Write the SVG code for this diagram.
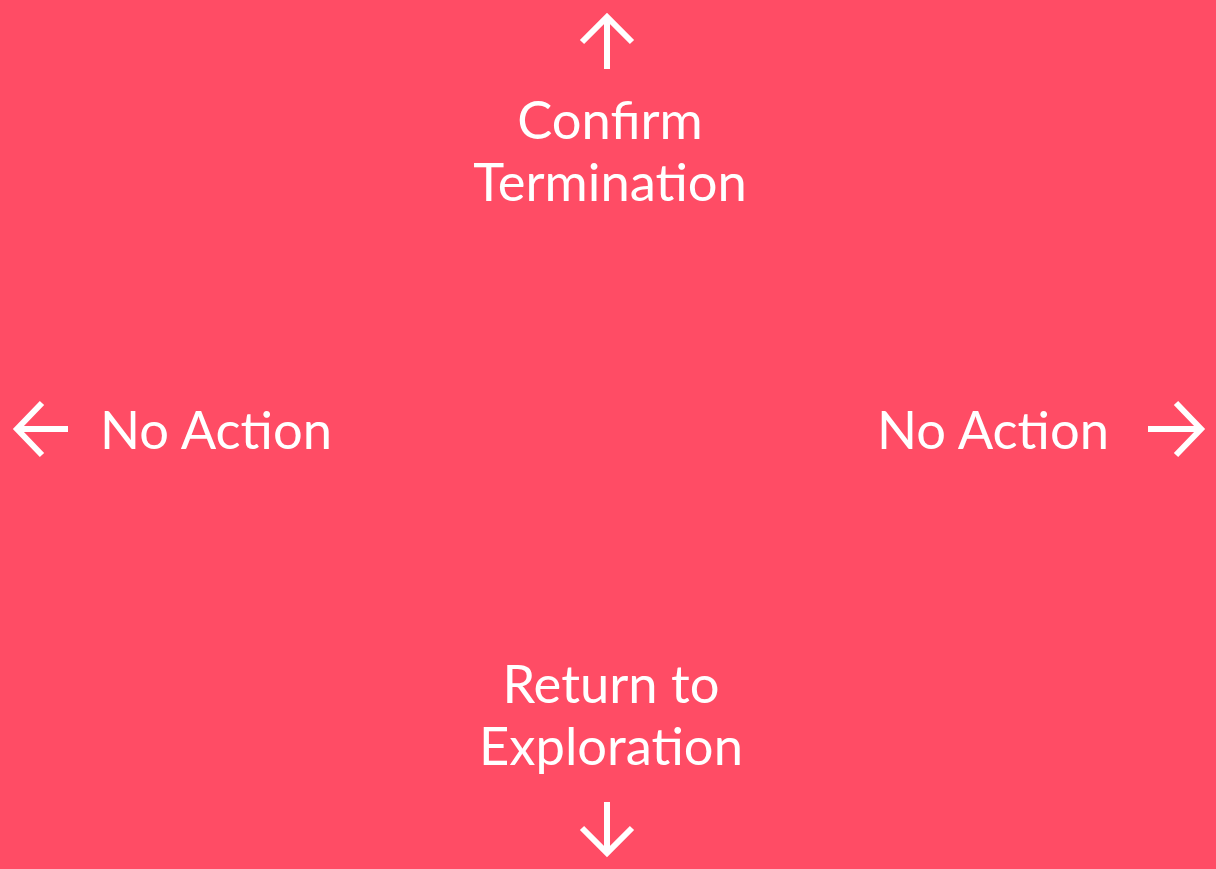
<svg xmlns="http://www.w3.org/2000/svg" width="1216" height="869" viewBox="0 0 1216 869">
<style>
.t{font-family:Lato,"Noto Sans",sans-serif;font-size:52.5px;fill:#fff}
.a{fill:none;stroke:#fff;stroke-width:6;stroke-linecap:butt;stroke-linejoin:miter}
</style>
<rect width="1216" height="869" fill="#FF4C65"/>
<g id="connectors">
<path class="a" d="M607 69V17M582 42L607 17L632 42"/>
<path class="a" d="M607 802V853M582 828L607 853L632 828"/>
<path class="a" d="M68 429H17M42 403L17 429L42 455"/>
<path class="a" d="M1148 429H1200M1176 403L1201 429L1176 455"/>
</g>
<g id="top"><text class="t" text-anchor="middle" x="610" y="139">Confirm</text><text class="t" text-anchor="middle" x="610" y="201">Termination</text></g>
<g id="bottom"><text class="t" text-anchor="middle" x="611" y="703">Return to</text><text class="t" text-anchor="middle" x="611" y="765">Exploration</text></g>
<g id="left"><text class="t" x="100" y="449">No Action</text></g>
<g id="right"><text class="t" x="877" y="449">No Action</text></g>
</svg>
